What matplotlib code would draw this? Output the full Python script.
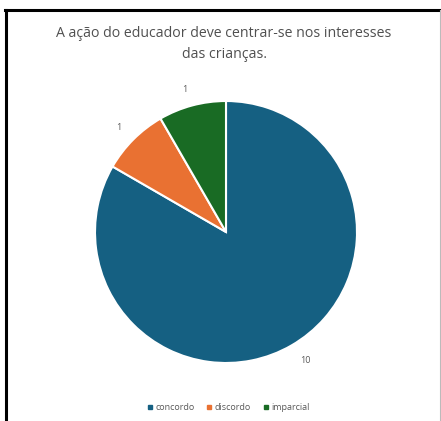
import matplotlib.pyplot as plt
from matplotlib.lines import Line2D

# data
categorias = ['concordo', 'discordo', 'imparcial']
valores = [10, 1, 1]
cores = ['#156082', '#E97132', '#196B24']
titulo = 'A ação do educador deve centrar-se nos interesses\ndas crianças.'

W, H = 441, 421
plt.rcParams['font.family'] = ['Open Sans', 'DejaVu Sans']
fig = plt.figure(figsize=(W / 100, H / 100), dpi=100)
fig.patch.set_facecolor('white')

# pie axes, centre (226, 232) px from top-left, radius 131 px
cx, cy, r, half = 226, H - 232, 131, 150
ax = fig.add_axes([(cx - half) / W, (cy - half) / H, 2 * half / W, 2 * half / H])
ax.pie(valores, colors=cores, startangle=90, counterclock=False,
       labels=[str(v) for v in valores], labeldistance=1.13,
       wedgeprops=dict(edgecolor='white', linewidth=1.5),
       textprops=dict(fontsize=6.5, color='#595959'))
ax.set_xlim(-half / r, half / r)
ax.set_ylim(-half / r, half / r)
ax.set_aspect('equal')
ax.axis('off')

fig.text(224 / W, 1 - 44 / H, titulo, ha='center', va='center',
         fontsize=10.2, color='#505050', linespacing=1.6)

handles = [Line2D([], [], marker='s', linestyle='', markersize=3.5,
                  markerfacecolor=c, markeredgecolor=c) for c in cores]
fig.legend(handles, categorias, loc='center', ncol=3,
           bbox_to_anchor=(228 / W, 13 / H), frameon=False,
           fontsize=6.5, labelcolor='#595959', handletextpad=0.2,
           columnspacing=1.2, handlelength=0.8)

# border of the screenshot
fig.add_artist(Line2D([6 / W, 6 / W], [0, 1 - 10 / H], color='black',
                      linewidth=2.2, transform=fig.transFigure))
fig.add_artist(Line2D([5 / W, 1], [1 - 10 / H, 1 - 10 / H], color='black',
                      linewidth=2.2, transform=fig.transFigure))
fig.add_artist(Line2D([439.5 / W, 439.5 / W], [0, 1 - 10 / H], color='#bbbbbb',
                      linewidth=0.8, transform=fig.transFigure))

fig.savefig('out.png', dpi=100)
